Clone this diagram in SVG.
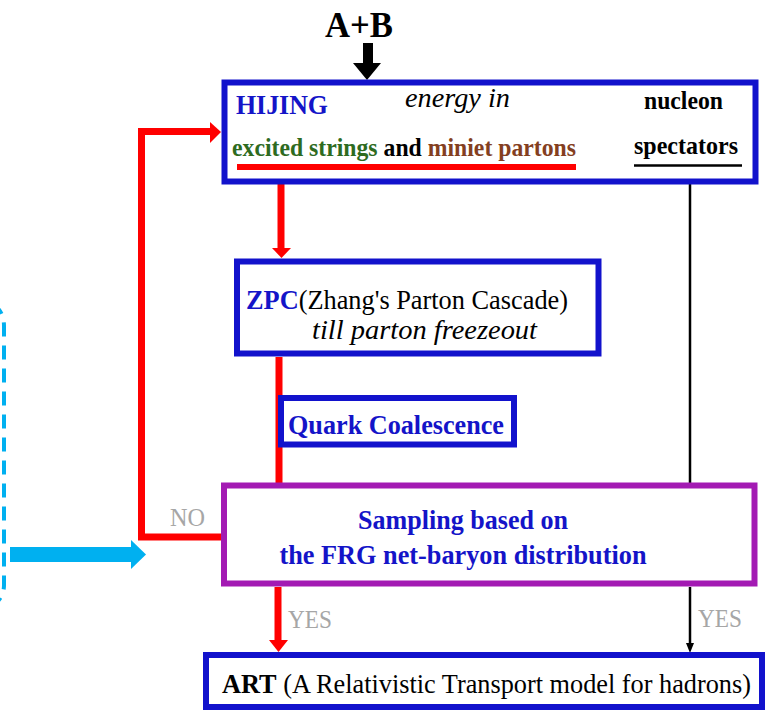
<svg xmlns="http://www.w3.org/2000/svg" width="765" height="710" viewBox="0 0 765 710" font-family="'Liberation Serif', 'DejaVu Serif', serif">
<defs>
<style>
text{font-family:'Liberation Serif','DejaVu Serif',serif}
.b{font-weight:bold}
.i{font-style:italic}
.box{fill:#fff;stroke:#1212cc;stroke-width:6}
.blue{fill:#1414c8}
.gray{fill:#a6a6a6}
.red{stroke:#ff0000;stroke-width:7;fill:none}
.blk{stroke:#000;stroke-width:2.5;fill:none}
</style>
</defs>
<rect width="765" height="710" fill="#fff"/>
<g id="connectors">
<path class="red" d="M222 537 H141.5 V131.5 H212"/>
<polygon points="210,122 221,132 210,143" fill="#ff0000"/>
<path class="red" d="M281 167 V249"/>
<polygon points="272,248 291,248 281.5,258" fill="#ff0000"/>
<path class="red" d="M279 357 V486"/>
<path class="red" d="M278 587 V642"/>
<polygon points="269,640 288,640 278.5,652" fill="#ff0000"/>
<path class="blk" d="M690 166 V484"/>
<path class="blk" d="M690 587 V645"/>
<polygon points="686,643 694,643 690,653" fill="#000"/>
<path d="M368 43 V64" stroke="#000" stroke-width="10" fill="none"/>
<polygon points="353,63 381,63 367,80" fill="#000"/>
<path d="M-30 298 Q4 300 4 326 V585 Q4 608 -30 612" stroke="#00b0f0" stroke-width="4" fill="none" stroke-dasharray="14 9"/>
<rect x="10" y="547" width="123" height="15" fill="#00b0f0"/>
<polygon points="131,540 146,554.5 131,569" fill="#00b0f0"/>
</g>
<text class="b" x="325" y="37" font-size="36" textLength="68" lengthAdjust="spacingAndGlyphs">A+B</text>
<g id="hijing">
<rect class="box" x="224.5" y="82.5" width="531" height="99"/>
<text class="b blue" x="236" y="114" font-size="28" textLength="92" lengthAdjust="spacingAndGlyphs">HIJING</text>
<text class="i" x="405" y="107" font-size="27" textLength="105" lengthAdjust="spacingAndGlyphs">energy in</text>
<text class="b" x="644" y="109" font-size="26" textLength="79" lengthAdjust="spacingAndGlyphs">nucleon</text>
<text class="b" x="232" y="156" font-size="26" textLength="344" lengthAdjust="spacingAndGlyphs"><tspan fill="#2e6b1f">excited strings</tspan> and <tspan fill="#843f1f">miniet partons</tspan></text>
<text class="b" x="634" y="154" font-size="26" textLength="104" lengthAdjust="spacingAndGlyphs">spectators</text>
<path d="M237 167 H576" stroke="#ff0000" stroke-width="6"/>
<path d="M634 165.5 H742" stroke="#000" stroke-width="2.5"/>
</g>
<g id="zpc">
<rect class="box" x="237" y="261.5" width="361.5" height="92"/>
<text x="246" y="309" font-size="28" textLength="322" lengthAdjust="spacingAndGlyphs"><tspan class="b blue">ZPC</tspan>(Zhang's Parton Cascade)</text>
<text class="i" x="312" y="339" font-size="27" textLength="225" lengthAdjust="spacingAndGlyphs">till parton freezeout</text>
</g>
<g id="quark">
<rect class="box" x="281" y="398" width="233" height="46.5"/>
<text class="b blue" x="288" y="434" font-size="28" textLength="216" lengthAdjust="spacingAndGlyphs">Quark Coalescence</text>
</g>
<g id="sampling">
<rect x="224" y="485.5" width="530.5" height="98" fill="#fff" stroke="#a31ab3" stroke-width="6"/>
<text class="b blue" x="463" y="529" font-size="28" text-anchor="middle" textLength="210" lengthAdjust="spacingAndGlyphs">Sampling based on</text>
<text class="b blue" x="463" y="564" font-size="28" text-anchor="middle" textLength="367" lengthAdjust="spacingAndGlyphs">the FRG net-baryon distribution</text>
</g>
<g id="labels">
<text class="gray" x="170" y="526" font-size="25" textLength="35" lengthAdjust="spacingAndGlyphs">NO</text>
<text class="gray" x="288" y="628" font-size="25" textLength="44" lengthAdjust="spacingAndGlyphs">YES</text>
<text class="gray" x="698" y="627" font-size="25" textLength="44" lengthAdjust="spacingAndGlyphs">YES</text>
</g>
<g id="art">
<rect class="box" x="206" y="655" width="556" height="52"/>
<text x="222" y="693" font-size="28" textLength="529" lengthAdjust="spacingAndGlyphs"><tspan class="b">ART</tspan> (A Relativistic Transport model for hadrons)</text>
</g>
</svg>
